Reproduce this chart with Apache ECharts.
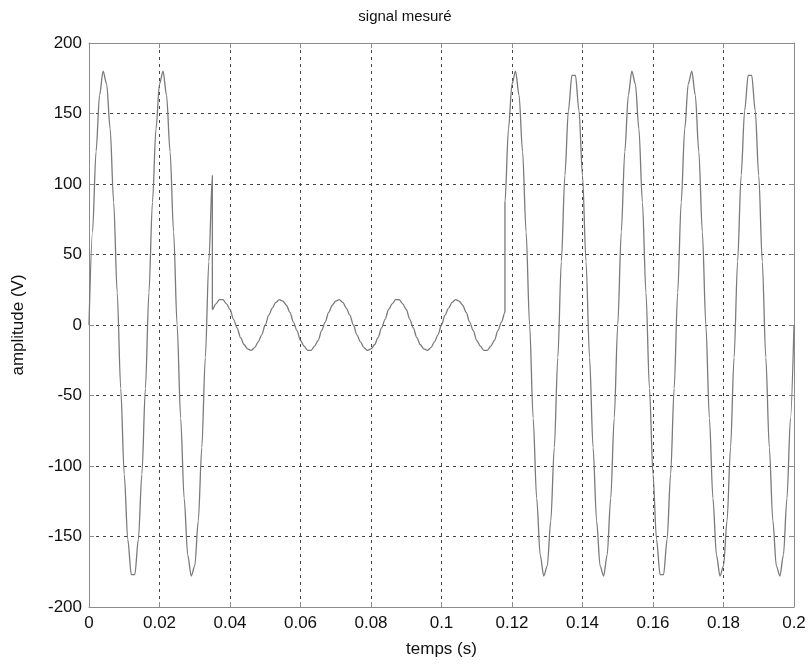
<!DOCTYPE html>
<html>
<head>
<meta charset="utf-8">
<script src="https://cdn.jsdelivr.net/npm/echarts@6/dist/echarts.min.js"></script>
<style>
  html, body { margin: 0; padding: 0; background: #fff; }
  #chart { width: 810px; height: 664px; }
</style>
</head>
<body>
<div id="chart"></div>
<script>
// sample step of the measured signal (s)
var dt = 0.001;

// full amplitude, t = 0 .. 0.035
var before = [0, 66, 123, 163, 180, 171, 139, 87, 23, -45, -106, -152, -177, -177, -152, -106, -45, 23, 87, 139,
    171, 180, 163, 123, 66, 0, -66, -123, -163, -178, -171, -139, -87, -23, 45, 106];
var t0Before = 0;

// voltage sag, t = 0.035 .. 0.118
var sag = [11, 15, 18, 18, 15, 11, 4, -2, -9, -14, -17, -18, -16, -12, -7,
    0, 7, 12, 16, 18, 17, 14, 9, 2, -4, -11, -15, -18, -18, -15, -11, -4, 2, 9, 14, 17, 18, 16, 12, 7,
    0, -7, -12, -16, -18, -17, -14, -9, -2, 4, 11, 15, 18, 18, 15, 11, 4, -2, -9, -14, -17, -18, -16, -12, -7,
    0, 7, 12, 16, 18, 17, 14, 9, 2, -4, -11, -15, -18, -18, -15, -11, -4, 2, 9];
var t0Sag = 0.035;

// full amplitude again, t = 0.118 .. 0.2
var after = [87, 139, 171, 180, 163, 123, 66,
    0, -66, -123, -163, -178, -171, -139, -87, -23, 45, 106, 152, 177, 177, 152, 106, 45, -23, -87, -139, -171, -178, -163, -123, -66,
    0, 66, 123, 163, 180, 171, 139, 87, 23, -45, -106, -152, -177, -177, -152, -106, -45, 23, 87, 139, 171, 180, 163, 123, 66,
    0, -66, -123, -163, -178, -171, -139, -87, -23, 45, 106, 152, 177, 177, 152, 106, 45, -23, -87, -139, -171, -178, -163, -123, -66,
    0];
var t0After = 0.118;

var xTicks = [0, 0.02, 0.04, 0.06, 0.08, 0.1, 0.12, 0.14, 0.16, 0.18, 0.2];
var yTicks = [-200, -150, -100, -50, 0, 50, 100, 150, 200];

function toPoints(vals, t0) {
    var pts = [];
    for (var i = 0; i < vals.length; i++) {
        pts.push([+(t0 + i * dt).toFixed(4), vals[i]]);
    }
    return pts;
}

var signal = toPoints(before, t0Before).concat(toPoints(sag, t0Sag)).concat(toPoints(after, t0After));

var frameColor = '#8c8c8c';
var gridStyle = { color: '#444', width: 1, type: [3, 4] };
var font = 'Liberation Sans, Arial, sans-serif';

function xLabel(v) {
    return String(+v.toFixed(2));
}

var option = {
    animation: false,
    backgroundColor: '#fff',
    title: {
        text: 'signal mesuré',
        left: 'center',
        top: 4,
        textStyle: { color: '#111', fontSize: 15, fontWeight: 'normal', fontFamily: font }
    },
    grid: { left: 89, right: 16, top: 43, bottom: 57 },
    xAxis: [{
        type: 'value',
        min: 0, max: 0.2, interval: 0.02,
        name: 'temps (s)',
        nameLocation: 'middle',
        nameGap: 34,
        nameTextStyle: { color: '#111', fontSize: 17, fontFamily: font },
        axisLine: { onZero: false, lineStyle: { color: frameColor } },
        axisTick: { inside: true, length: 5, lineStyle: { color: frameColor } },
        axisLabel: { color: '#111', fontSize: 17, fontFamily: font, margin: 8, formatter: xLabel },
        splitLine: { show: true, lineStyle: gridStyle }
    }, {
        type: 'value',
        position: 'top',
        min: 0, max: 0.2, interval: 0.02,
        axisLine: { show: true, onZero: false, lineStyle: { color: frameColor } },
        axisTick: { inside: true, length: 5, lineStyle: { color: frameColor } },
        axisLabel: { show: false },
        splitLine: { show: false }
    }],
    yAxis: [{
        type: 'value',
        min: -200, max: 200, interval: 50,
        name: 'amplitude (V)',
        nameLocation: 'middle',
        nameGap: 62,
        nameTextStyle: { color: '#111', fontSize: 17, fontFamily: font },
        axisLine: { show: true, onZero: false, lineStyle: { color: frameColor } },
        axisTick: { show: true, inside: true, length: 5, lineStyle: { color: frameColor } },
        axisLabel: { color: '#111', fontSize: 17, fontFamily: font, margin: 7 },
        splitLine: { show: true, lineStyle: gridStyle }
    }, {
        type: 'value',
        position: 'right',
        min: -200, max: 200, interval: 50,
        axisLine: { show: true, onZero: false, lineStyle: { color: frameColor } },
        axisTick: { show: true, inside: true, length: 5, lineStyle: { color: frameColor } },
        axisLabel: { show: false },
        splitLine: { show: false }
    }],
    series: [{
        name: 'signal',
        type: 'line',
        data: signal,
        showSymbol: false,
        smooth: 0.3,
        smoothMonotone: 'x',
        lineStyle: { color: '#7a7a7a', width: 1.3 },
        z: 3
    }]
};

var chart = echarts.init(document.getElementById('chart'), null, { renderer: 'canvas' });
chart.setOption(option);
</script>
</body>
</html>
